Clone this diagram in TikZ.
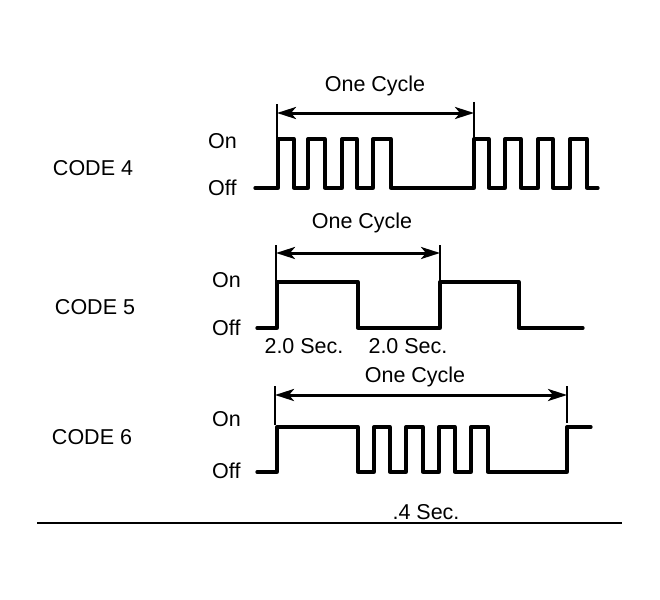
\documentclass[tikz,border=0pt]{standalone}
\usepackage{fontspec}
\setmainfont{Liberation Sans}
\usetikzlibrary{arrows.meta}
\begin{document}
\begin{tikzpicture}[x=1pt,y=-1pt,
  lbl/.style={font=\fontsize{21.5}{24}\selectfont, inner sep=0pt},
  wave/.style={line width=3.3pt, line join=round, line cap=round},
  tick/.style={line width=1.2pt},
  cyc/.style={line width=3pt, {Stealth[length=19pt,width=12pt,inset=5pt]}-{Stealth[length=19pt,width=12pt,inset=5pt]}}]
\useasboundingbox (0,0) rectangle (660,599);

% ---------- CODE 4 ----------
\node[lbl] (code4) at (93,168) {CODE 4};
\node[lbl, anchor=west] (on4) at (208,141) {On};
\node[lbl, anchor=west] (off4) at (208,188) {Off};
\node[lbl] (cyc4) at (375,86) {One Cycle};
\coordinate (t4l) at (277,104);
\coordinate (t4r) at (474,102);
\coordinate (a4l) at (277,113);
\coordinate (a4r) at (474,113);
\draw[tick] (t4l) -- (277,139);
\draw[tick] (t4r) -- (474,139);
\draw[cyc] (a4l) -- (a4r);
\draw[wave] (255,188) -- (278,188) -- (278,139) -- (294,139) -- (294,188)
  -- (308,188) -- (308,139) -- (325,139) -- (325,188)
  -- (342,188) -- (342,139) -- (357,139) -- (357,188)
  -- (373,188) -- (373,139) -- (391,139) -- (391,188)
  -- (474,188) -- (474,139) -- (489,139) -- (489,188)
  -- (505,188) -- (505,139) -- (521,139) -- (521,188)
  -- (538,188) -- (538,139) -- (553,139) -- (553,188)
  -- (570,188) -- (570,139) -- (587,139) -- (587,188) -- (598,188);

% ---------- CODE 5 ----------
\node[lbl] (code5) at (95,307) {CODE 5};
\node[lbl, anchor=west] (on5) at (212,280) {On};
\node[lbl, anchor=west] (off5) at (212,328) {Off};
\node[lbl] (cyc5) at (362,223) {One Cycle};
\node[lbl] (sec5a) at (304,346) {2.0 Sec.};
\node[lbl] (sec5b) at (408,346) {2.0 Sec.};
\coordinate (t5l) at (276,245);
\coordinate (t5r) at (440,245);
\coordinate (a5l) at (276,253);
\coordinate (a5r) at (440,253);
\draw[tick] (t5l) -- (276,282);
\draw[tick] (t5r) -- (440,282);
\draw[cyc] (a5l) -- (a5r);
\draw[wave] (257,328) -- (277,328) -- (277,282) -- (358,282) -- (358,328)
  -- (440,328) -- (440,282) -- (519,282) -- (519,328) -- (583,328);

% ---------- CODE 6 ----------
\node[lbl] (code6) at (92,437) {CODE 6};
\node[lbl, anchor=west] (on6) at (212,419) {On};
\node[lbl, anchor=west] (off6) at (212,471) {Off};
\node[lbl] (cyc6) at (415,377) {One Cycle};
\node[lbl] (sec6) at (426,512) {.4 Sec.};
\coordinate (t6l) at (275,386);
\coordinate (t6r) at (567,386);
\coordinate (a6l) at (275,395);
\coordinate (a6r) at (567,395);
\draw[tick] (t6l) -- (275,425);
\draw[tick] (t6r) -- (567,423);
\draw[cyc] (a6l) -- (a6r);
\draw[wave] (257,472) -- (277,472) -- (277,427) -- (358,427) -- (358,472)
  -- (374,472) -- (374,427) -- (390,427) -- (390,472)
  -- (406,472) -- (406,427) -- (423,427) -- (423,472)
  -- (439,472) -- (439,427) -- (455,427) -- (455,472)
  -- (471,472) -- (471,427) -- (488,427) -- (488,472)
  -- (567,472) -- (567,427) -- (591,427);

% ---------- bottom rule ----------
\coordinate (rl) at (37,523);
\coordinate (rr) at (622,523);
\draw[line width=1.8pt] (rl) -- (rr);
\end{tikzpicture}
\end{document}
